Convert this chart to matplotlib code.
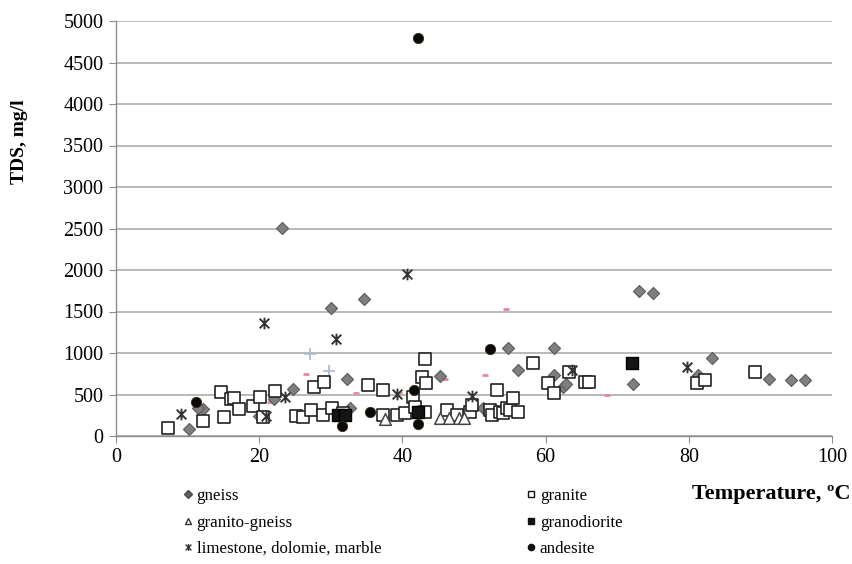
import matplotlib
matplotlib.use("Agg")
import matplotlib.pyplot as plt
from matplotlib.path import Path
from matplotlib.lines import Line2D

# ---------------- data ----------------
gneiss_T = [10.2, 12.2, 11.5, 20.0, 22.0, 24.7, 23.2, 30.0, 34.6, 32.3, 32.7, 42.2, 45.2, 51.3,
            54.7, 56.1, 61.2, 61.2, 62.4, 62.8, 72.2, 73.0, 75.0, 81.3, 83.2, 91.2, 94.3, 96.2]
gneiss_TDS = [80, 320, 340, 240, 450, 570, 2510, 1540, 1650, 690, 340, 290, 720, 340,
              1060, 790, 1060, 740, 590, 630, 630, 1750, 1720, 740, 940, 690, 680, 680]

granite_T = [7.3, 12.2, 14.7, 15.1, 16.0, 16.5, 17.2, 19.2, 20.1, 20.6, 22.2, 25.1, 26.1, 27.2,
             27.7, 29.0, 28.9, 30.2, 31.7, 35.2, 37.3, 37.3, 39.2, 40.4, 41.5, 41.8, 42.7, 43.2,
             43.2, 43.3, 46.2, 47.6, 49.4, 49.7, 52.2, 52.5, 53.2, 53.6, 54.0, 54.6, 55.0, 55.5,
             56.1, 58.2, 60.3, 61.2, 63.3, 65.5, 66.1, 81.2, 82.3, 89.2]
granite_TDS = [95, 180, 530, 225, 445, 455, 325, 360, 470, 230, 540, 240, 230, 315,
               590, 650, 250, 335, 275, 615, 555, 250, 250, 275, 470, 350, 715, 930,
               290, 640, 310, 250, 290, 375, 310, 250, 555, 290, 280, 340, 310, 455,
               290, 880, 640, 515, 770, 650, 650, 640, 675, 770]

gg_T = [37.5, 45.3, 46.5, 47.9, 48.6]
gg_TDS = [200, 215, 215, 215, 220]

lime_T = [9.1, 20.7, 21.0, 23.6, 30.7, 39.2, 40.6, 42.0, 49.7, 63.7, 79.7]
lime_TDS = [265, 1360, 240, 470, 1170, 505, 1950, 300, 480, 795, 830]

grano_T = [31.0, 32.0, 42.2, 72.1]
grano_TDS = [250, 250, 290, 880]

andes_T = [11.2, 31.6, 35.5, 41.6, 42.2, 42.2, 52.2]
andes_TDS = [410, 120, 290, 555, 140, 4800, 1050]

other1_T = [21.5, 26.5, 33.5, 39.5, 46.0, 46.0, 51.5, 54.5, 68.6]
other1_TDS = [410, 745, 515, 520, 690, 290, 735, 1530, 490]

other2_T = [27.1, 29.7, 37.3]
other2_TDS = [990, 780, 190]

legend_labels = ["gneiss", "granito-gneiss", "limestone, dolomie, marble",
                 "granite", "granodiorite", "andesite"]

# ---------------- style ----------------
plt.rcParams['font.family'] = ['Liberation Serif', 'DejaVu Serif']

star = Path([(-1, -1), (1, 1), (-1, 1), (1, -1), (0, -1.2), (0, 1.2)],
            [Path.MOVETO, Path.LINETO, Path.MOVETO, Path.LINETO, Path.MOVETO, Path.LINETO])

fig = plt.figure(figsize=(8.53, 5.64), dpi=100)
ax = fig.add_axes([116/853, 1-436/564, (832-116)/853, (436-21)/564])

ax.scatter(gneiss_T, gneiss_TDS, marker='D', s=38, c='#7f7f7f', edgecolors='#5a5a5a', linewidths=0.8, zorder=3)
ax.scatter(granite_T, granite_TDS, marker='s', s=75, facecolors='white', edgecolors='#222222', linewidths=1.2, zorder=3)
ax.scatter(gg_T, gg_TDS, marker='^', s=70, facecolors='white', edgecolors='#444444', linewidths=1.1, zorder=3)
ax.scatter(lime_T, lime_TDS, marker=star, s=70, c='#333333', linewidths=1.4, zorder=4)
ax.scatter(grano_T, grano_TDS, marker='s', s=70, c='#151515', edgecolors='#000000', zorder=4)
ax.scatter(andes_T, andes_TDS, marker='o', s=55, c='#0a0a0a', edgecolors='#3a2a10', linewidths=0.6, zorder=5)
ax.scatter(other1_T, other1_TDS, marker='_', s=25, c='#e08a9a', linewidths=2, zorder=2)
ax.scatter(other2_T, other2_TDS, marker='+', s=70, c='#a8b8d8', linewidths=1.2, zorder=2)

ax.set_xlim(0, 100)
ax.set_ylim(0, 5000)
ax.set_xticks(range(0, 101, 20))
ax.set_yticks(range(0, 5001, 500))
ax.yaxis.grid(True, color='#a6a6a6', linewidth=1.1)
ax.set_axisbelow(True)
for s in ['top', 'right']:
    ax.spines[s].set_visible(False)
for s in ['left', 'bottom']:
    ax.spines[s].set_color('#8c8c8c')
    ax.spines[s].set_linewidth(1.0)
ax.tick_params(axis='both', direction='out', length=5, color='#8c8c8c', labelsize=14.5, pad=4)

fig.text(20/853, 1-142/564, "TDS, mg/l", rotation=90, ha='center', va='center',
         fontsize=14, fontweight='bold')
fig.text(851/853, 1-494/564, "Temperature, ºC", ha='right', va='center',
         fontsize=16, fontweight='bold')

ms = 4.5
handles = [
    Line2D([], [], ls='none', marker='D', ms=4, mfc='#5f5f5f', mec='#4a4a4a'),
    Line2D([], [], ls='none', marker='^', ms=5, mfc='white', mec='#333333'),
    Line2D([], [], ls='none', marker=star, ms=5, color='#333333', mew=1.0),
    Line2D([], [], ls='none', marker='s', ms=ms, mfc='white', mec='#111111'),
    Line2D([], [], ls='none', marker='s', ms=ms, mfc='#111111', mec='#111111'),
    Line2D([], [], ls='none', marker='o', ms=ms, mfc='#111111', mec='#111111'),
]
fig.legend(handles, legend_labels, loc='upper left', bbox_to_anchor=(184/853, 1-488/564),
           ncol=2, frameon=False, fontsize=12.2, handlelength=0.5, handletextpad=0.25,
           columnspacing=8.6, labelspacing=0.62, borderaxespad=0, borderpad=0)

fig.savefig("out.png", dpi=100)
